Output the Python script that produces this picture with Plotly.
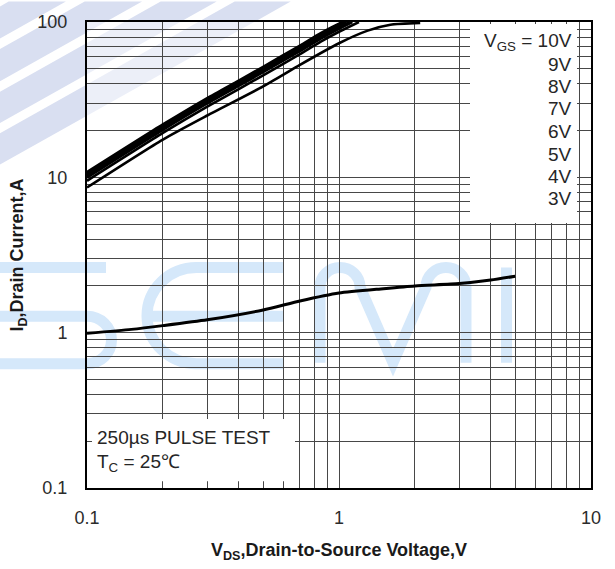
import plotly.graph_objects as go

# ---------------- data ----------------
vgs_labels = ["10V", "9V", "8V", "7V", "6V", "5V", "4V", "3V"]

vds_10v = [0.1, 0.2, 0.3, 0.4, 0.5, 0.7, 0.85, 1.0, 1.04]
id_10v = [10.8, 21.9, 32.4, 42.0, 51.5, 70.5, 85.0, 97.5, 100]

vds_9v = [0.1, 0.2, 0.3, 0.4, 0.5, 0.7, 0.85, 1.0, 1.05]
id_9v = [10.6, 21.5, 31.8, 41.3, 50.6, 69.2, 83.5, 96.0, 100]

vds_8v = [0.1, 0.2, 0.3, 0.4, 0.5, 0.7, 0.85, 1.0, 1.07]
id_8v = [10.4, 21.1, 31.2, 40.5, 49.7, 68.0, 82.0, 94.5, 100]

vds_7v = [0.1, 0.2, 0.3, 0.4, 0.5, 0.7, 0.85, 1.0, 1.1]
id_7v = [10.15, 20.6, 30.5, 39.6, 48.5, 66.4, 80.0, 92.2, 100]

vds_6v = [0.1, 0.2, 0.3, 0.4, 0.5, 0.7, 0.85, 1.0, 1.13]
id_6v = [9.95, 20.2, 29.9, 38.8, 47.5, 65.0, 78.5, 90.5, 100]

vds_5v = [0.1, 0.2, 0.3, 0.4, 0.5, 0.7, 0.85, 1.0, 1.2]
id_5v = [9.5, 19.3, 28.5, 37.0, 45.4, 62.1, 75.0, 86.5, 100]

vds_4v = [0.1, 0.2, 0.3, 0.5, 0.7, 1.0, 1.3, 1.6, 2.1]
id_4v = [8.6, 17.5, 25.0, 38.5, 53.0, 73.0, 88.0, 96.0, 98.5]

vds_3v = [0.1, 0.15, 0.2, 0.3, 0.5, 0.7, 1.0, 1.5, 2.0, 3.0, 4.0, 5.0]
id_3v = [0.99, 1.05, 1.11, 1.21, 1.4, 1.6, 1.8, 1.92, 2.0, 2.07, 2.18, 2.31]

x_major_vals = [0.1, 1, 10]
x_major_text = ["0.1", "1", "10"]
x_minor_vals = [0.2, 0.3, 0.4, 0.5, 0.6, 0.7, 0.8, 0.9,
                2, 3, 4, 5, 6, 7, 8, 9]
y_major_vals = [0.1, 1, 10, 100]
y_major_text = ["0.1", "1", "10", "100"]
y_minor_vals = [0.2, 0.3, 0.4, 0.5, 0.6, 0.7, 0.8, 0.9,
                2, 3, 4, 5, 6, 7, 8, 9,
                20, 30, 40, 50, 60, 70, 80, 90]

legend_lines = ["V<sub>GS</sub> = 10V", "9V", "8V", "7V", "6V", "5V", "4V", "3V"]
note_lines = ["250µs PULSE TEST", "T<sub>C</sub> = 25℃"]

# ---------------- figure ----------------
W, H = 615, 569
L, R, T, B = 87, 591, 16, 496  # plot area in pixels
FONT = "Arial, Liberation Sans, sans-serif"

series = [
    (vds_10v, id_10v), (vds_9v, id_9v), (vds_8v, id_8v), (vds_7v, id_7v),
    (vds_6v, id_6v), (vds_5v, id_5v), (vds_4v, id_4v), (vds_3v, id_3v),
]

fig = go.Figure()
for name, (xs, ys) in zip(vgs_labels, series):
    fig.add_trace(go.Scatter(
        x=xs, y=ys, mode="lines", name=name,
        line=dict(color="black", width=2.6 if name != "3V" else 3.0,
                  shape="spline", smoothing=0.6),
        showlegend=False, hoverinfo="skip",
    ))


def pp(x, y):
    """pixel -> paper coordinates string"""
    return f"{(x - L) / (R - L):.5f},{(B - y) / (B - T):.5f}"


K = 0.5523


def arc_left(cx, cy, r):
    return (f" C{pp(cx - K * r, cy - r)} {pp(cx - r, cy - K * r)} {pp(cx - r, cy)}"
            f" C{pp(cx - r, cy + K * r)} {pp(cx - K * r, cy + r)} {pp(cx, cy + r)}")


def arc_right(cx, cy, r):
    return (f" C{pp(cx + K * r, cy - r)} {pp(cx + r, cy - K * r)} {pp(cx + r, cy)}"
            f" C{pp(cx + r, cy + K * r)} {pp(cx + K * r, cy + r)} {pp(cx, cy + r)}")


def arch_top(cx, cy, r):
    return (f" C{pp(cx - r, cy - K * r)} {pp(cx - K * r, cy - r)} {pp(cx, cy - r)}"
            f" C{pp(cx + K * r, cy - r)} {pp(cx + r, cy - K * r)} {pp(cx + r, cy)}")


shapes = []
# diagonal logo stripes (top-left decoration)
band_color = "#d9dff1"
for d1, d2 in [(0, 28.6), (38, 66.7), (76, 104), (113, 141)]:
    p = (f"M{pp(-5, (d1 + 2.5) / 0.866)} L{pp(-5, (d2 + 2.5) / 0.866)} "
         f"L{pp((d2 + 4.33) / 0.5, -5)} L{pp((d1 + 4.33) / 0.5, -5)} Z")
    shapes.append(dict(type="path", xref="paper", yref="paper", path=p,
                       fillcolor=band_color, line=dict(width=0), layer="below"))
shapes.append(dict(type="rect", xref="paper", yref="paper", x0=0, x1=1, y0=0, y1=1,
                   fillcolor="rgba(255,255,255,0.5)", line=dict(width=0), layer="below"))

# "SEMI" watermark strokes
wm = dict(color="#d5e8fa", width=11)
semi_paths = [
    f"M{pp(-10, 269)} L{pp(106, 269)}",
    f"M{pp(-10, 319)} L{pp(87, 319)}" + arc_right(87, 343.5, 24.5) + f" L{pp(-10, 368)}",
    f"M{pp(283, 269)} L{pp(196.5, 269)}" + arc_left(196.5, 318.5, 49.5) + f" L{pp(283, 368)}",
    f"M{pp(150, 319)} L{pp(283, 319)}",
    f"M{pp(320, 367)} L{pp(320, 289)}" + arch_top(340, 289, 20) +
    f" L{pp(393, 367)} L{pp(426, 289)}" + arch_top(446, 289, 20) + f" L{pp(466, 367)}",
    f"M{pp(506.5, 269)} L{pp(506.5, 367)}",
]
for p in semi_paths:
    shapes.append(dict(type="path", xref="paper", yref="paper", path=p,
                       line=wm, fillcolor="rgba(0,0,0,0)", layer="below"))


def box(x0, y0, x1, y1):
    return dict(type="rect", xref="paper", yref="paper",
                x0=(x0 - L) / (R - L), x1=(x1 - L) / (R - L),
                y0=(B - y1) / (B - T), y1=(B - y0) / (B - T),
                fillcolor="white", line=dict(width=0), layer="above")


shapes.append(box(470, 18, 577, 223))
shapes.append(box(92, 425, 295, 489))

annotations = []
legend_y = [37, 60, 82.5, 105.5, 128.5, 152, 175, 198]
for txt, yy in zip(legend_lines, legend_y):
    annotations.append(dict(
        xref="paper", yref="paper", x=(574 - L) / (R - L), y=(B - yy) / (B - T),
        xanchor="right", yanchor="middle", text=txt, showarrow=False,
        font=dict(family=FONT, size=19, color="#262626"),
    ))
for txt, yy in zip(note_lines, [444, 470]):
    annotations.append(dict(
        xref="paper", yref="paper", x=(95 - L) / (R - L), y=(B - yy) / (B - T),
        xanchor="left", yanchor="middle", text=txt, showarrow=False,
        font=dict(family=FONT, size=19, color="#262626"),
    ))

GRID = "#474747"
axis_common = dict(
    type="log", showgrid=True, gridcolor=GRID, gridwidth=1.4,
    showline=True, linecolor="black", linewidth=2, mirror=True,
    ticks="", zeroline=False, tickmode="array",
    tickfont=dict(family=FONT, size=18, color="#2b2b2b"),
)

fig.update_layout(
    width=W, height=H,
    margin=dict(l=L, r=W - R, t=T, b=H - B),
    paper_bgcolor="white", plot_bgcolor="white",
    shapes=shapes, annotations=annotations,
    xaxis=dict(axis_common, range=[-1, 1], tickvals=x_major_vals, ticktext=x_major_text,
               minor=dict(tickmode="array", tickvals=x_minor_vals, showgrid=True,
                          gridcolor=GRID, gridwidth=1.4, ticks=""),
               ticklabelstandoff=12,
               title=dict(text="<b>V<sub>DS</sub>,Drain-to-Source Voltage,V</b>",
                          font=dict(family=FONT, size=18, color="#1a1a1a"), standoff=17)),
    yaxis=dict(axis_common, range=[-1, 2], tickvals=y_major_vals, ticktext=y_major_text,
               minor=dict(tickmode="array", tickvals=y_minor_vals, showgrid=True,
                          gridcolor=GRID, gridwidth=1.4, ticks=""),
               ticklabelstandoff=14,
               title=dict(text="<b>I<sub>D</sub>,Drain Current,A</b>",
                          font=dict(family=FONT, size=18, color="#1a1a1a"), standoff=9)),
)

fig.write_html("out.html")
